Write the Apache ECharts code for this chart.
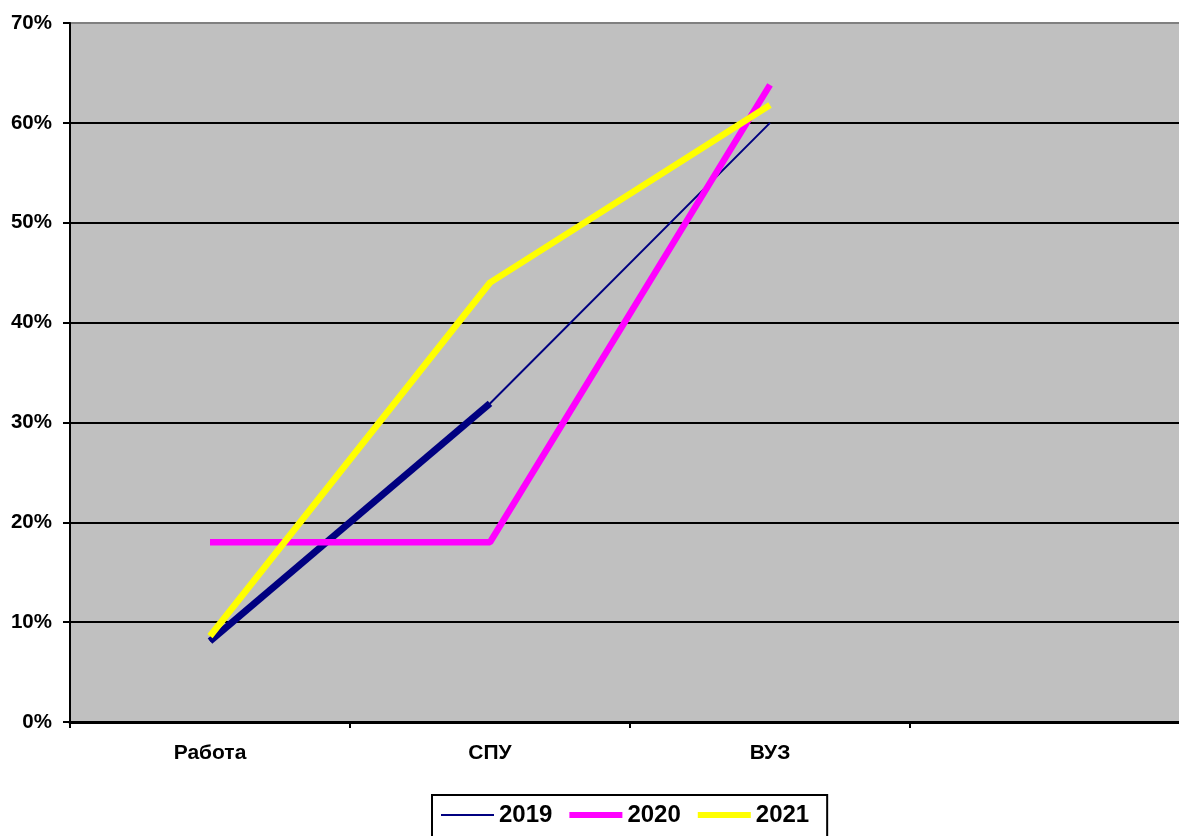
<!DOCTYPE html>
<html><head><meta charset="utf-8">
<script src="https://cdn.jsdelivr.net/npm/echarts@6/dist/echarts.min.js"></script>
<style>html,body{margin:0;padding:0;background:#fff;overflow:hidden;width:1179px;height:836px}#c{width:1195px;height:836px}</style>
</head><body><div id="c"></div>
<script>
var categories = ['Работа', 'СПУ', 'ВУЗ', ''];
var yTicks = [0, 10, 20, 30, 40, 50, 60, 70];
var s2019 = [8.1, 31.9, 60, null];
var s2019thick = [8.1, 31.9, null, null];
var s2020 = [18, 18, 63.8, null];
var s2021 = [8.6, 44, 61.8, null];

var chart = echarts.init(document.getElementById('c'));
var font = 'Liberation Sans, Arial, sans-serif';
chart.setOption({
  animation: false,
  backgroundColor: '#fff',
  grid: { left: 70, top: 23, width: 1120, bottom: 114, backgroundColor: '#C0C0C0', show: true, borderWidth: 0 },
  xAxis: {
    type: 'category', data: categories, boundaryGap: true,
    axisLine: { lineStyle: { color: '#000', width: 3 } },
    axisTick: { show: true, length: 6, lineStyle: { color: '#000', width: 2 } },
    axisLabel: { color: '#000', fontFamily: font, fontWeight: 'bold', fontSize: 21, margin: 21 },
    splitLine: { show: false }
  },
  yAxis: {
    type: 'value', min: yTicks[0], max: yTicks[yTicks.length - 1], interval: 10,
    axisLine: { show: true, lineStyle: { color: '#000', width: 2 } },
    axisTick: { show: true, length: 7, lineStyle: { color: '#000', width: 2 } },
    axisLabel: { color: '#000', fontFamily: font, fontWeight: 'bold', fontSize: 20.5, margin: 18, formatter: '{value}%' },
    splitLine: { show: true, lineStyle: { color: ['#000', '#000', '#000', '#000', '#000', '#000', '#000', '#808080'], width: 2 } }
  },
  legend: {
    data: [
      { name: '2019', lineStyle: { width: 2, color: '#000080' } },
      { name: '2020', lineStyle: { width: 6, color: '#FF00FF' } },
      { name: '2021', lineStyle: { width: 6, color: '#FFFF00' } }
    ],
    left: 432, top: 795, orient: 'horizontal',
    itemWidth: 53, itemHeight: 24, itemGap: 14,
    padding: [8, 18, 12, 8],
    borderColor: '#000', borderWidth: 2,
    itemStyle: { opacity: 0 },
    textStyle: { color: '#000', fontFamily: font, fontWeight: 'bold', fontSize: 24 },
    selectedMode: false
  },
  series: [
    { name: '2019', type: 'line', data: s2019, symbol: 'none', lineStyle: { color: '#000080', width: 2 }, itemStyle: { color: '#000080' } },
    { name: '2019 ', type: 'line', data: s2019thick, symbol: 'none', lineStyle: { color: '#000080', width: 7 }, itemStyle: { color: '#000080' } },
    { name: '2020', type: 'line', data: s2020, symbol: 'none', lineStyle: { color: '#FF00FF', width: 6.5 }, itemStyle: { color: '#FF00FF' } },
    { name: '2021', type: 'line', data: s2021, symbol: 'none', lineStyle: { color: '#FFFF00', width: 6.5 }, itemStyle: { color: '#FFFF00' } }
  ]
});
</script></body></html>
